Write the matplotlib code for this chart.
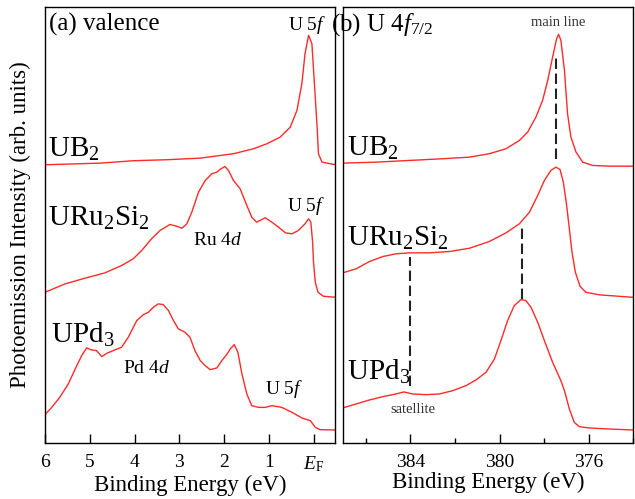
import matplotlib
matplotlib.use("Agg")
import matplotlib.pyplot as plt

plt.rcParams['font.family'] = ['Liberation Serif', 'DejaVu Serif']
plt.rcParams['mathtext.fontset'] = 'custom'
plt.rcParams['mathtext.rm'] = 'Liberation Serif'
plt.rcParams['mathtext.it'] = 'Liberation Serif:italic'

# ---------------- (a) valence band ----------------
ub2_val_E = [6.0, 4.77, 4.03, 3.28, 2.53, 1.79, 1.34, 1.04, 0.745, 0.52, 0.37, 0.26, 0.19, 0.11,
             0.036, -0.02, -0.08, -0.11, -0.19, -0.49]
ub2_val_I = [277.7, 279.3, 281.7, 282.7, 284.3, 288.7, 293.7, 298.7, 305.3, 315.3, 332, 358.7, 388.7,
             407, 398.7, 358.7, 315.3, 288.7, 280.3, 277.7]

uru_val_E = [6.0, 5.55, 5.11, 4.66, 4.29, 4.03, 3.84, 3.62, 3.43, 3.21, 3.06, 2.94, 2.83, 2.72,
             2.57, 2.42, 2.27, 2.16, 2.09, 1.98, 1.90, 1.79, 1.64, 1.49, 1.38, 1.27, 1.08, 0.93,
             0.78, 0.63, 0.48, 0.34, 0.19, 0.11, 0.06, 0.02, 0.0, -0.04, -0.10, -0.22, -0.49]
uru_val_I = [150.3, 158.7, 164.3, 169.7, 177, 183.7, 192, 203.7, 212, 218, 216.3, 214.3, 218.7, 230.3,
             250.3, 262, 268.7, 270.3, 273, 276, 272, 262, 253.7, 237, 225.3, 220.3, 224.7, 220.3,
             215.3, 209.7, 208.7, 212, 218.7, 223.7, 220.3, 200.3, 180.3, 160.3, 150.3, 146.3, 145.3]

upd_val_E = [6.0, 5.85, 5.67, 5.48, 5.29, 5.18, 5.07, 4.96, 4.85, 4.73, 4.62, 4.44, 4.29, 4.14,
             3.95, 3.80, 3.69, 3.58, 3.47, 3.36, 3.24, 3.13, 3.02, 2.87, 2.76, 2.65, 2.53, 2.42,
             2.31, 2.16, 2.05, 1.94, 1.86, 1.77, 1.69, 1.60, 1.49, 1.38, 1.23, 1.08, 0.93, 0.71,
             0.48, 0.26, 0.07, -0.04, -0.15, -0.49]
upd_val_I = [28, 35.3, 45.3, 58.7, 77, 87, 94.7, 92.7, 92, 86, 89.3, 92.7, 95.3, 105.3,
             122, 128, 130.3, 135.3, 138.7, 138, 132, 122, 113.7, 110.3, 105.3, 92, 82, 77,
             73, 74.7, 82, 88, 93.7, 98, 90.3, 68.7, 48.7, 37, 35.3, 35.3, 37, 35.3,
             30.3, 24.7, 22, 15.3, 13, 12.7]

val_ticks = [6, 5, 4, 3, 2, 1, 0]
val_ticklabels = ['6', '5', '4', '3', '2', '1', r'$\mathit{E}_{\mathrm{F}}$']

# ---------------- (b) U 4f7/2 core level ----------------
ub2_4f_E = [387.04, 385.54, 384.04, 382.55, 381.35, 380.46, 379.71, 379.11, 378.74, 378.37, 378.07,
            377.84, 377.62, 377.44, 377.35, 377.25, 377.09, 376.95, 376.80, 376.57, 376.27, 375.83,
            375.08, 374.03]
ub2_4f_I = [279.3, 280.3, 282, 283.7, 285.3, 288.7, 293.7, 302, 310.3, 325.3, 342,
            362, 385.3, 403.7, 408, 402, 372, 328.7, 305.3, 290.3, 280.3, 277,
            276.3, 276.3]

uru_4f_E = [387.04, 386.44, 385.84, 385.24, 384.65, 384.04, 383.15, 382.25, 381.35, 380.46, 379.71,
            379.11, 378.66, 378.29, 377.99, 377.70, 377.47, 377.29, 377.14, 376.99, 376.87, 376.75,
            376.60, 376.39, 376.13, 375.52, 374.03]
uru_4f_I = [169.7, 173.7, 181, 186, 188.7, 189.7, 189.7, 191, 194.3, 201, 209.7,
            218.7, 230.3, 247, 262, 272, 275.3, 273, 260.3, 237, 213.7, 190.3,
            170.3, 156.3, 150.3, 147.7, 145.3]

upd_4f_E = [387.04, 386.44, 385.84, 385.24, 384.65, 384.30, 383.90, 383.30, 382.70, 382.10, 381.51,
            381.06, 380.61, 380.23, 379.94, 379.64, 379.34, 379.04, 378.82, 378.59, 378.29, 377.99,
            377.62, 377.25, 377.09, 376.87, 376.65, 376.42, 375.97, 375.08, 374.03]
upd_4f_I = [34.7, 38.7, 42.7, 46, 48.7, 50.7, 48.7, 48, 48.7, 52, 57,
            62.7, 70.3, 83.7, 102, 122, 137, 143, 142, 135.3, 120.3, 102,
            80.3, 62, 52, 33.7, 20.3, 16, 14.7, 13.7, 12.7]

# dashed markers: (energy, y_from, y_to)
mark_E = [377.47, 379.0, 384.0]
mark_y0 = [283.7, 143.7, 57]
mark_y1 = [388.7, 217, 185.3]

core_major = [384, 380, 376]
core_minor = [386, 382, 378, 374]

RED = '#ff2a2a'

fig = plt.figure(figsize=(6.35, 4.99), dpi=100)
axA = fig.add_axes([45/635, 1-442.7/499, (335-45)/635, (442.7-7.3)/499])
axB = fig.add_axes([342.7/635, 1-442.7/499, (633.3-342.7)/635, (442.7-7.3)/499])

for ax in (axA, axB):
    ax.set_ylim(0, 435)
    ax.set_yticks([])
    ax.tick_params(axis='x', direction='in', length=6.5, width=1.0, labelsize=14, pad=8)
    ax.tick_params(axis='x', which='minor', direction='in', length=3.5, width=1.0)
    for s in ax.spines.values():
        s.set_linewidth(1.0)

# panel a
axA.plot(ub2_val_E, ub2_val_I, color=RED, lw=1.0)
axA.plot(uru_val_E, uru_val_I, color=RED, lw=1.0)
axA.plot(upd_val_E, upd_val_I, color=RED, lw=1.0)
axA.set_xlim(6.0, -0.48)
axA.set_xticks(val_ticks)
axA.set_xticklabels(val_ticklabels)
axA.set_xlabel('Binding Energy (eV)', fontsize=16.5, labelpad=1)
axA.set_ylabel('Photoemission Intensity (arb. units)', fontsize=16.5, labelpad=10)

axA.text(5.91, 418, '(a) valence', fontsize=18, ha='left', va='center')
axA.text(0.57, 417, r'U 5$\mathit{f}$', fontsize=14, ha='left', va='center')
axA.text(5.93, 293, r'UB$_2$', fontsize=21, ha='left', va='center')
axA.text(5.93, 224, r'URu$_2$Si$_2$', fontsize=21, ha='left', va='center')
axA.text(0.59, 236, r'U 5$\mathit{f}$', fontsize=14, ha='left', va='center')
axA.text(2.69, 202, r'Ru 4$\mathit{d}$', fontsize=14, ha='left', va='center')
axA.text(5.87, 108, r'UPd$_3$', fontsize=21, ha='left', va='center')
axA.text(4.26, 74, r'Pd 4$\mathit{d}$', fontsize=14, ha='left', va='center')
axA.text(1.08, 54, r'U 5$\mathit{f}$', fontsize=14, ha='left', va='center')

# panel b
axB.plot(ub2_4f_E, ub2_4f_I, color=RED, lw=1.0)
axB.plot(uru_4f_E, uru_4f_I, color=RED, lw=1.0)
axB.plot(upd_4f_E, upd_4f_I, color=RED, lw=1.0)
for e, y0, y1 in zip(mark_E, mark_y0, mark_y1):
    axB.plot([e, e], [y0, y1], color='#222222', lw=1.5, ls=(0, (5, 2.2)))
axB.set_xlim(387.04, 374.02)
axB.set_xticks(core_major)
axB.set_xticks(core_minor, minor=True)
axB.set_xlabel('Binding Energy (eV)', fontsize=16.5, labelpad=1)

axB.text(387.55, 418, r'(b) U 4$\mathit{f}_{7/2}$', fontsize=18, ha='left', va='center')
axB.text(377.36, 420, 'main line', fontsize=10.5, ha='center', va='center', color='#333333')
axB.text(386.84, 294, r'UB$_2$', fontsize=21, ha='left', va='center')
axB.text(386.84, 204, r'URu$_2$Si$_2$', fontsize=21, ha='left', va='center')
axB.text(386.84, 71, r'UPd$_3$', fontsize=21, ha='left', va='center')
axB.text(383.87, 33, 'satellite', fontsize=10.5, ha='center', va='center', color='#333333')

fig.savefig('out.png', dpi=100)
